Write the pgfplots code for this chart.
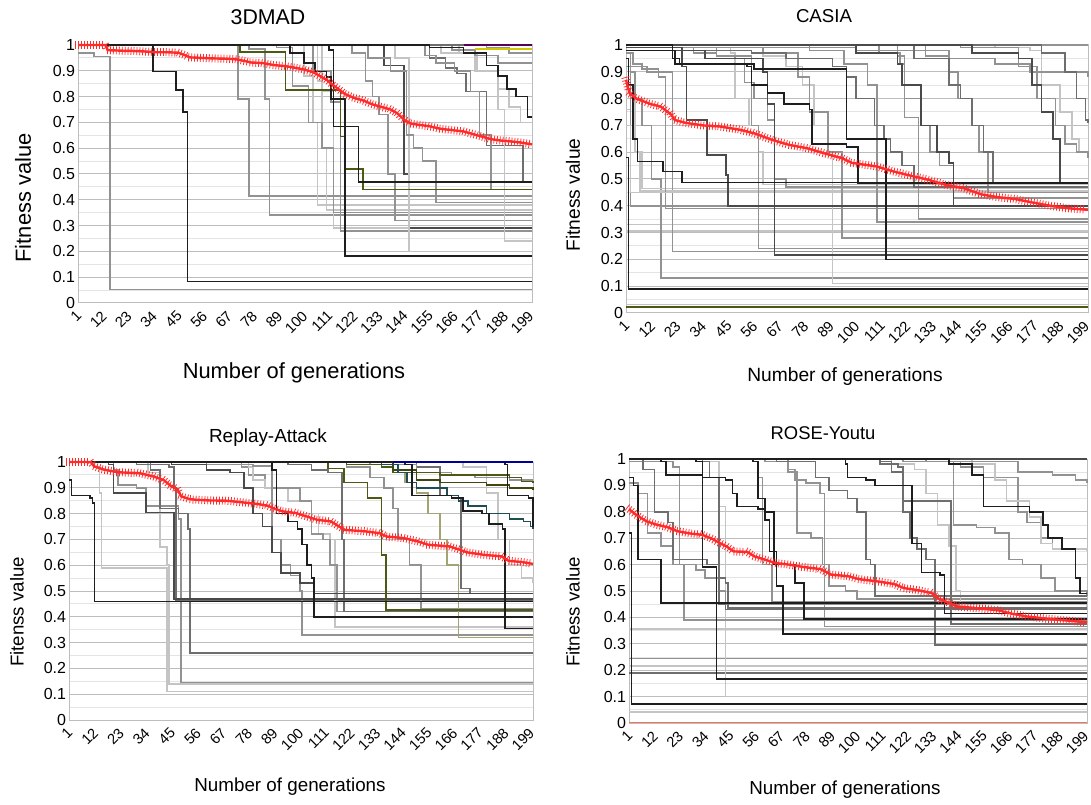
\documentclass[border=0pt]{standalone}
\usepackage{fontspec}
\setmainfont{Liberation Sans}
\usepackage{pgfplots}
\pgfplotsset{compat=1.18}
\usetikzlibrary{decorations.markings}

\definecolor{k1}{HTML}{1E1E1E}
\definecolor{k2}{HTML}{4A4A4A}
\definecolor{k3}{HTML}{6E6E6E}
\definecolor{k4}{HTML}{929292}
\definecolor{k5}{HTML}{C4C4C4}
\definecolor{olv}{HTML}{4B5A12}
\definecolor{khk}{HTML}{A3A376}
\definecolor{tea}{HTML}{1E4D55}
\definecolor{rd}{HTML}{FF2A2A}
\definecolor{slm}{HTML}{F4735A}
\definecolor{gridmaj}{HTML}{BDBDBD}
\definecolor{gridmin}{HTML}{E4E4E4}

\newcommand{\st}[2]{\addplot[#1] coordinates {#2};}

\pgfplotsset{
 panel/.style={
  scale only axis, anchor=south west,
  xmin=1, xmax=200, ymin=0, ymax=1,
  xtick={1,12,23,34,45,56,67,78,89,100,111,122,133,144,155,166,177,188,199},
  xticklabels={1,12,23,34,45,56,67,78,89,100,111,122,133,144,155,166,177,188,199},
  ytick={0,0.1,0.2,0.3,0.4,0.5,0.6,0.7,0.8,0.9,1},
  yticklabels={0,0.1,0.2,0.3,0.4,0.5,0.6,0.7,0.8,0.9,1},
  minor ytick={0.05,0.15,0.25,0.35,0.45,0.55,0.65,0.75,0.85,0.95},
  ymajorgrids, yminorgrids,
  major grid style={gridmaj, line width=0.75pt},
  minor grid style={gridmin, line width=0.75pt},
  axis line style={draw=gridmaj, line width=0.75pt},
  major tick length=0pt, minor tick length=0pt,
  yticklabel style={font=\fontsize{12}{12}\selectfont, anchor=east, inner sep=2pt},
  xticklabel style={font=\fontsize{11}{11}\selectfont, yshift=-5pt, xshift=-2pt, rotate=45, anchor=north east, inner sep=0pt},
  clip=false,
  every axis plot/.append style={const plot, line width=1.2pt, mark=none},
 },
 redline/.style={sharp plot, rd, line width=1.8pt,
  postaction={decorate, decoration={markings,
    mark=between positions 0 and 1 step 2.2pt with {\draw[rd, line width=0.6pt] (0,-3pt)--(0,3pt);}}}},
}

\begin{document}
\begin{tikzpicture}
\path[use as bounding box] (0,0) rectangle (818.25pt,603pt);

% ---------------- 3DMAD ----------------
\begin{axis}[panel, at={(58.5pt,375.75pt)}, width=340.5pt, height=193.5pt]
\st{k4}{(1,0.97)(8,0.955)(15,0.052)(200,0.052)}
\st{k1}{(1,1)(34,0.897)(44,0.826)(47,0.74)(49,0.084)(200,0.084)}
\st{k4}{(1,1)(71,0.79)(76,0.415)(200,0.415)}
\st{k4}{(1,1)(76,0.985)(83,0.79)(85,0.342)(200,0.342)}
\st{k5}{(1,1)(100,0.88)(104,0.7)(106,0.38)(200,0.38)}
\st{k5}{(1,1)(106,0.86)(108,0.6)(110,0.36)(200,0.36)}
\st{k5}{(1,1)(108,0.82)(113,0.29)(200,0.29)}
\st{k4}{(1,1)(104,0.9)(112,0.78)(116,0.28)(200,0.28)}
\st{k4}{(1,1)(88,0.99)(95,0.84)(102,0.7)(108,0.6)(113,0.35)(200,0.35)}
\st{k4}{(1,1)(121,0.97)(127,0.86)(130,0.8)(133,0.73)(137,0.5)(140,0.32)(200,0.32)}
\st{k2}{(1,1)(135,0.92)(144,0.5)(146,0.29)(200,0.29)}
\st{k5}{(1,1)(140,0.95)(146,0.2)(200,0.2)}
\st{k4}{(1,1)(128,0.95)(138,0.9)(145,0.65)(148,0.6)(152,0.55)(158,0.39)(200,0.39)}
\st{k3}{(1,1)(155,0.95)(162,0.91)(167,0.89)(171,0.82)(180,0.61)(196,0.47)(200,0.47)}
\st{k4}{(1,1)(153,0.96)(158,0.93)(166,0.9)(173,0.82)(177,0.65)(182,0.44)(200,0.44)}
\st{k5}{(1,1)(168,0.97)(176,0.9)(185,0.75)(188,0.24)(200,0.24)}
\st{k5}{(1,1)(160,0.97)(175,0.9)(185,0.83)(190,0.76)(195,0.7)(200,0.7)}
\st{k4}{(1,1)(165,0.98)(175,0.96)(185,0.93)(200,0.93)}
\st{k4}{(1,1)(180,0.99)(190,0.97)(200,0.97)}
\st{k3}{(1,1)(200,1)}
\st{olv}{(1,1)(72,0.974)(92,0.826)(116,0.645)(118,0.52)(126,0.44)(200,0.44)}
\st{k1}{(1,1)(111,0.98)(113,0.684)(118,0.183)(200,0.183)}
\st{k1}{(1,1)(94,0.97)(100,0.93)(105,0.897)(110,0.877)(112,0.79)(118,0.684)(124,0.47)(200,0.47)}
\st{k1}{(1,1)(155,0.99)(170,0.97)(180,0.92)(185,0.88)(189,0.83)(193,0.8)(198,0.72)(200,0.72)}
\st{violet!70!black}{(170,1)(200,1)}
\st{yellow!60!olive}{(175,0.985)(200,0.985)}
\addplot[redline] coordinates {(1,1.0)(5,1.0)(10,1.0)(13,1.0)(14,0.98)(20,0.978)(25,0.977)(30,0.975)(35,0.972)(40,0.972)(45,0.97)(48,0.96)(50,0.952)(55,0.95)(60,0.948)(65,0.947)(70,0.945)(73,0.94)(77,0.932)(82,0.93)(87,0.922)(92,0.918)(96,0.912)(100,0.905)(104,0.895)(107,0.88)(110,0.865)(112,0.85)(115,0.83)(118,0.81)(122,0.795)(126,0.785)(130,0.77)(134,0.76)(138,0.75)(141,0.735)(144,0.71)(147,0.695)(151,0.69)(155,0.685)(160,0.675)(165,0.67)(170,0.665)(174,0.655)(178,0.645)(182,0.635)(186,0.63)(190,0.627)(195,0.622)(200,0.615)};
\end{axis}

% ---------------- CASIA ----------------
\begin{axis}[panel, at={(469.5pt,368.25pt)}, width=346.5pt, height=201pt]
\st{olv}{(1,0.022)(200,0.022)}
\st{k5}{(1,0.032)(200,0.032)}
\st{k5}{(1,0.33)(200,0.33)}
\st{k5}{(1,0.305)(200,0.305)}
\st{k1}{(1,0.58)(2,0.09)(200,0.09)}
\st{k4}{(1,0.97)(3,0.9)(5,0.8)(8,0.7)(12,0.5)(16,0.13)(200,0.13)}
\st{k5}{(1,0.76)(3,0.7)(5,0.6)(8,0.465)(200,0.465)}
\st{k4}{(1,0.92)(3,0.4)(200,0.4)}
\st{k4}{(1,0.97)(4,0.93)(8,0.91)(15,0.9)(21,0.23)(200,0.23)}
\st{k5}{(1,0.8)(5,0.6)(7,0.455)(200,0.455)}
\st{k4}{(1,0.92)(10,0.9)(15,0.88)(18,0.39)(200,0.39)}
\st{k5}{(1,0.7)(3,0.45)(200,0.45)}
\st{k5}{(1,0.99)(46,0.97)(48,0.8)(54,0.7)(58,0.6)(60,0.48)(200,0.48)}
\st{k4}{(1,0.99)(40,0.96)(55,0.7)(58,0.24)(200,0.24)}
\st{k5}{(1,0.99)(60,0.96)(70,0.92)(77,0.85)(82,0.7)(88,0.6)(90,0.11)(200,0.11)}
\st{k4}{(1,0.99)(60,0.97)(75,0.88)(80,0.75)(88,0.6)(94,0.28)(200,0.28)}
\st{k4}{(1,1)(80,0.98)(95,0.93)(105,0.85)(109,0.34)(200,0.34)}
\st{k4}{(1,1)(118,0.96)(121,0.73)(127,0.35)(200,0.35)}
\st{k4}{(1,1)(110,0.97)(119,0.93)(121,0.8)(128,0.7)(132,0.6)(136,0.55)(142,0.43)(200,0.43)}
\st{k4}{(1,1)(130,0.96)(140,0.9)(144,0.8)(150,0.7)(153,0.6)(157,0.45)(200,0.45)}
\st{k4}{(1,0.99)(30,0.97)(40,0.96)(48,0.95)(52,0.86)(56,0.8)(62,0.72)(65,0.5)(70,0.47)(200,0.47)}
\st{k5}{(1,1)(160,0.99)(175,0.98)(180,0.85)(188,0.75)(193,0.65)(196,0.6)(200,0.59)}
\st{k4}{(1,1)(145,0.99)(170,0.92)(178,0.8)(186,0.7)(190,0.63)(195,0.6)(200,0.58)}
\st{k4}{(1,0.99)(100,0.98)(140,0.95)(160,0.93)(175,0.9)(200,0.88)}
\st{k4}{(1,1)(200,1)}
\st{k3}{(1,0.98)(55,0.97)(70,0.95)(90,0.92)(96,0.88)(100,0.8)(108,0.7)(112,0.65)(115,0.6)(120,0.55)(125,0.47)(200,0.47)}
\st{k3}{(1,1)(125,0.95)(140,0.85)(145,0.8)(150,0.7)(155,0.6)(159,0.485)(200,0.485)}
\st{k3}{(1,1)(180,0.97)(190,0.9)(195,0.8)(199,0.72)(200,0.71)}
\st{k2}{(1,0.99)(25,0.92)(27,0.72)(36,0.59)(44,0.515)(45,0.40)(200,0.40)}
\st{k2}{(1,0.98)(35,0.95)(60,0.9)(62,0.78)(65,0.217)(200,0.217)}
\st{k2}{(1,1)(100,0.97)(118,0.93)(120,0.85)(128,0.7)(135,0.6)(140,0.56)(142,0.40)(200,0.40)}
\st{k2}{(1,1)(150,0.97)(170,0.95)(176,0.85)(180,0.75)(185,0.65)(188,0.485)(200,0.485)}
\st{k1}{(1,0.95)(2,0.85)(4,0.65)(6,0.565)(17,0.528)(25,0.487)(200,0.487)}
\st{k1}{(1,1)(21,0.95)(24,0.93)(53,0.92)(55,0.85)(62,0.82)(69,0.78)(80,0.76)(81,0.63)(96,0.62)(101,0.485)(200,0.485)}
\st{k1}{(1,0.98)(22,0.93)(56,0.91)(96,0.65)(113,0.2)(200,0.2)}
\addplot[redline] coordinates {(1,0.87)(2.5,0.82)(5.5,0.80)(11.5,0.78)(16,0.77)(20.5,0.74)(22,0.72)(26.5,0.71)(34,0.70)(41.4,0.696)(50.4,0.683)(56.4,0.67)(63.9,0.646)(71.4,0.627)(78.9,0.615)(86.4,0.596)(93.9,0.578)(98.4,0.56)(108.9,0.547)(116.3,0.528)(123.8,0.512)(131.3,0.497)(138.8,0.478)(146.3,0.466)(153.8,0.443)(161.3,0.432)(168.8,0.425)(176.3,0.412)(183.8,0.40)(191.2,0.391)(200,0.385)};
\end{axis}

% ---------------- Replay-Attack ----------------
\begin{axis}[panel, at={(51.75pt,63pt)}, width=348pt, height=193.5pt]
\st{k5}{(1,1)(12,0.98)(14,0.88)(15,0.59)(42,0.59)(43,0.11)(200,0.11)}
\st{k4}{(1,1)(20,0.97)(22,0.91)(30,0.9)(34,0.83)(46,0.83)(48,0.78)(49,0.145)(200,0.145)}
\st{k5}{(1,1)(35,0.96)(40,0.67)(43,0.6)(44,0.14)(200,0.14)}
\st{k3}{(1,1)(36,0.97)(40,0.82)(48,0.8)(52,0.74)(53,0.26)(200,0.26)}
\st{k3}{(1,1)(30,0.99)(44,0.98)(46,0.9)(47,0.465)(200,0.465)}
\st{k4}{(1,1)(75,0.98)(78,0.95)(85,0.9)(88,0.7)(92,0.6)(96,0.56)(100,0.5)(101,0.33)(200,0.33)}
\st{k5}{(1,1)(78,0.98)(80,0.93)(85,0.9)(95,0.85)(105,0.8)(108,0.72)(113,0.7)(115,0.36)(200,0.36)}
\st{k4}{(1,1)(60,0.99)(80,0.985)(88,0.9)(100,0.85)(105,0.72)(110,0.7)(113,0.6)(116,0.42)(200,0.42)}
\st{k3}{(1,1)(95,0.99)(105,0.97)(112,0.96)(118,0.7)(119,0.42)(200,0.42)}
\st{k4}{(1,1)(120,0.98)(130,0.94)(136,0.9)(140,0.82)(142,0.7)(147,0.6)(152,0.43)(200,0.43)}
\st{k3}{(1,1)(150,0.98)(160,0.87)(165,0.86)(169,0.51)(173,0.49)(200,0.49)}
\st{k5}{(1,1)(170,0.98)(180,0.88)(185,0.7)(190,0.6)(195,0.55)(200,0.53)}
\st{k4}{(1,1)(130,0.99)(150,0.96)(165,0.95)(175,0.94)(190,0.93)(200,0.93)}
\st{khk}{(1,1)(130,0.99)(140,0.96)(145,0.92)(150,0.88)(155,0.8)(160,0.7)(163,0.6)(168,0.32)(200,0.32)}
\st{k2}{(1,1)(18,0.99)(20,0.88)(31,0.88)(34,0.805)(45,0.805)(46,0.47)(200,0.47)}
\st{k2}{(1,1)(45,0.99)(60,0.97)(70,0.96)(76,0.9)(80,0.8)(84,0.75)(88,0.65)(92,0.57)(100,0.53)(106,0.49)(200,0.49)}
\st{olv}{(1,1)(112,0.975)(119,0.92)(129,0.86)(135,0.64)(137,0.427)(200,0.427)}
\st{olv}{(1,1)(120,0.99)(135,0.98)(140,0.96)(160,0.95)(185,0.95)(190,0.94)(195,0.925)(200,0.92)}
\st{olv!80!black}{(1,1)(140,0.97)(150,0.93)(160,0.92)(180,0.91)(190,0.9)(200,0.89)}
\st{tea}{(1,1)(135,0.99)(142,0.96)(146,0.92)(150,0.9)(163,0.87)(168,0.85)(172,0.83)(180,0.8)(190,0.78)(196,0.77)(199,0.75)(200,0.74)}
\st{k1}{(1,0.93)(2,0.87)(10,0.86)(11,0.84)(12,0.46)(200,0.46)}
\st{k1}{(1,1)(88,0.97)(90,0.8)(95,0.77)(99,0.74)(101,0.68)(103,0.6)(105,0.55)(106,0.4)(200,0.4)}
\st{k1}{(1,1)(145,0.99)(148,0.87)(165,0.86)(170,0.81)(178,0.8)(181,0.76)(187,0.74)(188,0.355)(200,0.355)}
\st{k1}{(1,1)(188,0.99)(189,0.87)(198,0.86)(200,0.75)}
\st{blue!60!black}{(140,1)(200,1)}
\addplot[redline] coordinates {(1,1.0)(10.3,1.0)(11.8,0.983)(16.2,0.97)(22.2,0.96)(31.2,0.957)(37.2,0.944)(41.6,0.93)(44.6,0.908)(47.6,0.893)(49.1,0.867)(52.8,0.856)(55,0.854)(61,0.851)(68.5,0.85)(76,0.843)(82,0.837)(86.5,0.83)(89.4,0.818)(92.4,0.809)(98.4,0.802)(102.9,0.789)(107.4,0.776)(113.3,0.77)(116.3,0.753)(119.3,0.737)(128.3,0.731)(134.3,0.724)(137.3,0.711)(144.7,0.705)(150.7,0.692)(155.2,0.679)(164.1,0.673)(168.6,0.66)(171.6,0.65)(179.1,0.64)(186.6,0.634)(189.5,0.617)(195.5,0.612)(200,0.605)};
\end{axis}

% ---------------- ROSE-Youtu ----------------
\begin{axis}[panel, at={(471.75pt,60.75pt)}, width=343.5pt, height=198pt]
\st{k5}{(1,0.042)(200,0.042)}
\st{k3}{(1,0.19)(200,0.19)}
\st{k5}{(1,0.215)(200,0.215)}
\st{k4}{(1,0.245)(200,0.245)}
\st{k5}{(1,0.355)(200,0.355)}
\st{k5}{(1,1)(30,0.99)(40,0.82)(43,0.101)(200,0.101)}
\st{k4}{(1,0.91)(5,0.87)(9,0.72)(15,0.67)(20,0.6)(25,0.39)(200,0.39)}
\st{k4}{(1,0.99)(20,0.97)(23,0.6)(30,0.58)(34,0.55)(40,0.5)(43,0.45)(200,0.45)}
\st{k4}{(1,1)(55,0.99)(57,0.93)(59,0.6)(63,0.46)(200,0.46)}
\st{k4}{(1,1)(60,0.99)(70,0.96)(73,0.92)(78,0.91)(84,0.87)(86,0.366)(200,0.366)}
\st{k4}{(1,1)(70,0.95)(74,0.72)(80,0.7)(85,0.6)(88,0.52)(95,0.5)(100,0.47)(200,0.47)}
\st{k5}{(1,1)(115,0.98)(125,0.96)(130,0.87)(135,0.75)(140,0.67)(143,0.5)(145,0.45)(200,0.44)}
\st{k4}{(1,1)(140,0.99)(145,0.97)(155,0.93)(170,0.8)(174,0.76)(180,0.7)(185,0.66)(200,0.65)}
\st{k4}{(1,1)(130,0.99)(142,0.75)(152,0.74)(160,0.72)(166,0.62)(172,0.6)(180,0.55)(186,0.5)(200,0.48)}
\st{k5}{(1,1)(150,0.98)(160,0.92)(165,0.84)(175,0.78)(180,0.68)(185,0.66)(190,0.66)(200,0.65)}
\st{k4}{(1,1)(120,0.99)(150,0.99)(170,0.95)(185,0.94)(195,0.92)(200,0.91)}
\st{k3}{(1,1)(7,0.96)(12,0.8)(18,0.76)(20,0.62)(35,0.6)(40,0.45)(43,0.43)(200,0.43)}
\st{k3}{(1,1)(33,0.99)(36,0.93)(40,0.55)(43,0.53)(44,0.435)(200,0.435)}
\st{k3}{(1,1)(65,0.99)(82,0.93)(88,0.88)(96,0.85)(100,0.8)(104,0.62)(106,0.6)(108,0.48)(200,0.48)}
\st{k3}{(1,1)(110,0.99)(115,0.95)(120,0.8)(123,0.7)(126,0.66)(130,0.62)(134,0.295)(200,0.295)}
\st{k3}{(1,1)(110,0.98)(118,0.97)(120,0.84)(140,0.84)(141,0.375)(200,0.375)}
\st{k2}{(1,1)(200,1)}
\st{k1}{(1,0.72)(2,0.073)(200,0.073)}
\st{k1}{(1,1)(30,0.99)(33,0.59)(38,0.59)(39,0.167)(200,0.167)}
\st{k1}{(1,0.93)(3,0.9)(5,0.62)(14,0.62)(15,0.455)(200,0.455)}
\st{k1}{(1,1)(15,0.99)(17,0.94)(33,0.93)(43,0.92)(46,0.87)(48,0.82)(57,0.81)(60,0.77)(62,0.65)(65,0.52)(68,0.337)(200,0.337)}
\st{k1}{(1,1)(55,0.99)(57,0.85)(60,0.8)(63,0.8)(64,0.6)(72,0.6)(73,0.53)(77,0.395)(200,0.395)}
\st{k1}{(1,1)(95,0.98)(96,0.93)(104,0.92)(108,0.9)(120,0.9)(124,0.68)(128,0.57)(136,0.56)(138,0.415)(200,0.415)}
\st{k1}{(1,1)(140,0.98)(150,0.94)(155,0.82)(170,0.82)(175,0.8)(181,0.75)(183,0.7)(189,0.66)(195,0.55)(197,0.49)(200,0.49)}
\st{slm}{(1,0.002)(200,0.002)}
\addplot[redline] coordinates {(1,0.81)(4,0.789)(8.6,0.764)(13.1,0.751)(17.6,0.742)(22.2,0.726)(28.2,0.717)(32.8,0.713)(37.3,0.697)(40.3,0.682)(43.4,0.669)(46.4,0.65)(52.4,0.648)(55.5,0.631)(60,0.619)(64.5,0.606)(70.6,0.6)(76.7,0.591)(84.2,0.583)(88.8,0.562)(96.3,0.556)(100.9,0.545)(108.4,0.537)(116,0.527)(120.5,0.511)(126.6,0.503)(132.6,0.492)(135.7,0.47)(140.2,0.455)(143.2,0.442)(150.8,0.436)(161.4,0.427)(167.4,0.414)(173.5,0.404)(182.6,0.395)(191.6,0.388)(200,0.381)};
\end{axis}

% ---------------- titles and labels ----------------
\node[font=\fontsize{16}{16}\selectfont] at (201pt,590.25pt) {3DMAD};
\node[font=\fontsize{16.4}{16.4}\selectfont, rotate=90] at (17.25pt,454.5pt) {Fitness value};
\node[font=\fontsize{16.4}{16.4}\selectfont] at (220.5pt,323.25pt) {Number of generations};

\node[font=\fontsize{14}{14}\selectfont] at (618pt,591pt) {CASIA};
\node[font=\fontsize{14.4}{14.4}\selectfont, rotate=90] at (429.75pt,456.75pt) {Fitness value};
\node[font=\fontsize{14.4}{14.4}\selectfont] at (633.75pt,320.25pt) {Number of generations};

\node[font=\fontsize{14.2}{14.2}\selectfont] at (201pt,274.5pt) {Replay-Attack};
\node[font=\fontsize{14}{14}\selectfont, rotate=90] at (12.75pt,144pt) {Fitenss value};
\node[font=\fontsize{14.1}{14.1}\selectfont] at (217.5pt,12.75pt) {Number of generations};

\node[font=\fontsize{13.8}{13.8}\selectfont] at (617.25pt,278.25pt) {ROSE-Youtu};
\node[font=\fontsize{14}{14}\selectfont, rotate=90] at (429.75pt,144pt) {Fitness value};
\node[font=\fontsize{14.1}{14.1}\selectfont] at (633.75pt,10.5pt) {Number of generations};
\end{tikzpicture}
\end{document}
